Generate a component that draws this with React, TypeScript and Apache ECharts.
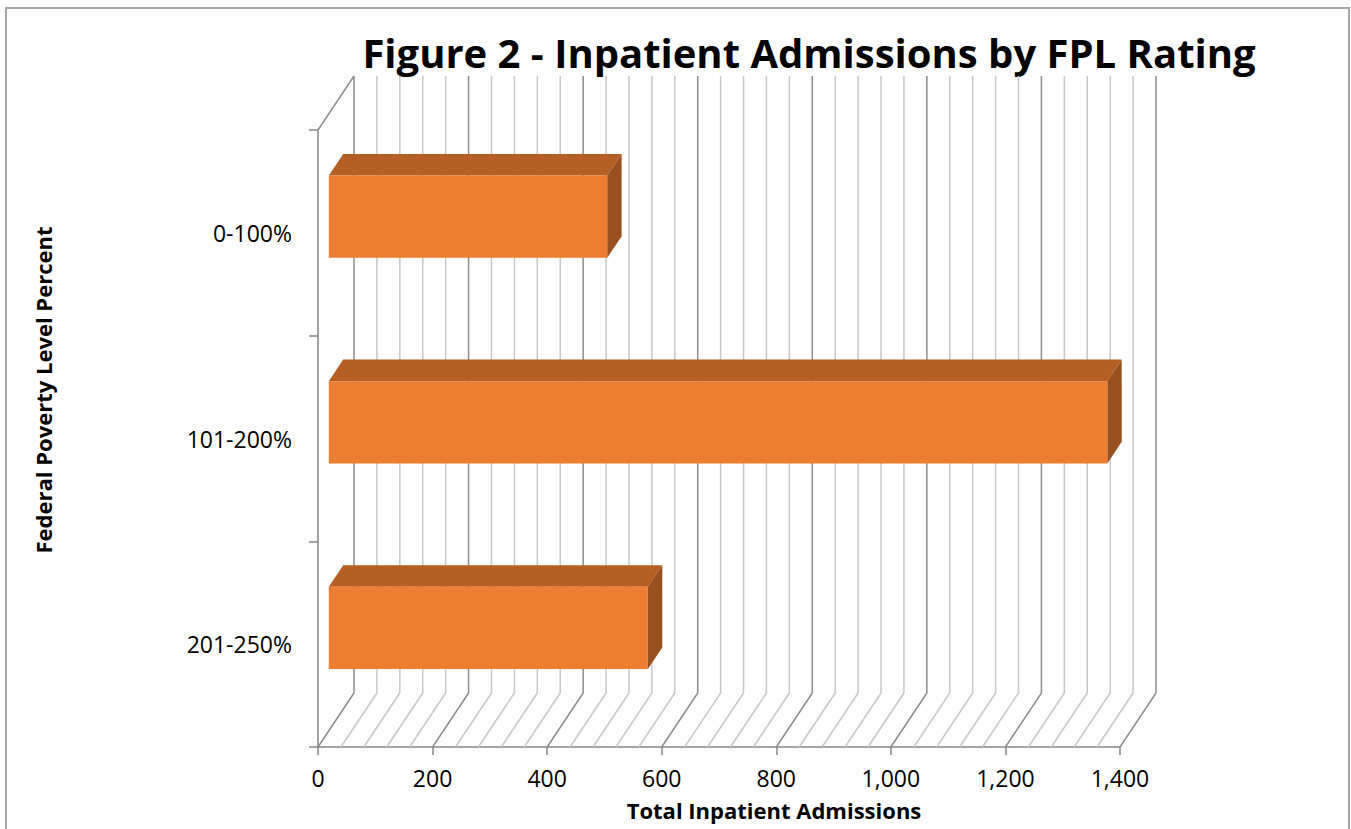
import React, { useEffect, useRef } from "react";
import * as echarts from "echarts";

const titleText = "Figure 2 - Inpatient Admissions by FPL Rating";
const xAxisTitle = "Total Inpatient Admissions";
const yAxisTitle = "Federal Poverty Level Percent";
const categories = ["0-100%", "101-200%", "201-250%"];
const admissions = [486, 1359, 557];
const xTicks = [0, 200, 400, 600, 800, 1000, 1200, 1400];
const gridTicks = [
  0, 40, 80, 120, 160, 200, 240, 280, 320, 360, 400, 440, 480, 520, 560, 600,
  640, 680, 720, 760, 800, 840, 880, 920, 960, 1000, 1040, 1080, 1120, 1160,
  1200, 1240, 1280, 1320, 1360, 1400,
];

const DX = 36;
const DY = 54;
const D0 = 0.3;
const DD = 0.4;
const FONT = "'Open Sans', 'Liberation Sans', sans-serif";

export default function App() {
  const ref = useRef<HTMLDivElement>(null);
  useEffect(() => {
    if (!ref.current) return;
    const chart = echarts.init(ref.current, null, { renderer: "svg" });
    const option: any = {
      animation: false,
      backgroundColor: "#ffffff",
      grid: { left: 318, top: 130, width: 802, height: 617 },
      xAxis: {
        type: "value",
        min: xTicks[0],
        max: xTicks[xTicks.length - 1],
        interval: 200,
        axisLine: { show: true, lineStyle: { color: "#868686", width: 1.5 } },
        axisTick: { show: true, length: 8, lineStyle: { color: "#868686", width: 1.5 } },
        splitLine: { show: false },
        axisLabel: {
          margin: 19,
          fontSize: 23,
          color: "#000",
          fontFamily: FONT,
          formatter: (v: number) => v.toLocaleString("en-US"),
        },
      },
      yAxis: {
        type: "category",
        inverse: true,
        data: categories,
        axisLine: { show: true, lineStyle: { color: "#868686", width: 1.5 } },
        axisTick: { show: true, length: 9, lineStyle: { color: "#868686", width: 1.5 } },
        splitLine: { show: false },
        axisLabel: { margin: 26, fontSize: 23, color: "#000", fontFamily: FONT },
      },
      graphic: [
        {
          type: "rect",
          shape: { x: 6, y: 8, width: 1343, height: 840 },
          style: { fill: "none", stroke: "#a6a6a6", lineWidth: 2 },
          silent: true,
        },
        {
          type: "text",
          x: 809,
          y: 52,
          style: {
            text: titleText,
            fontSize: 40,
            fontWeight: "bold",
            fontFamily: FONT,
            fill: "#000",
            textAlign: "center",
            textVerticalAlign: "middle",
          },
        },
        {
          type: "text",
          x: 774,
          y: 810,
          style: {
            text: xAxisTitle,
            fontSize: 22,
            fontWeight: "bold",
            fontFamily: FONT,
            fill: "#000",
            textAlign: "center",
            textVerticalAlign: "middle",
          },
        },
        {
          type: "text",
          x: 43,
          y: 390,
          rotation: Math.PI / 2,
          style: {
            text: yAxisTitle,
            fontSize: 22,
            fontWeight: "bold",
            fontFamily: FONT,
            fill: "#000",
            textAlign: "center",
            textVerticalAlign: "middle",
          },
        },
      ],
      series: [
        {
          type: "custom",
          z: 1,
          silent: true,
          encode: { x: 0, y: 1 },
          data: gridTicks.map((v) => [v, 0]),
          renderItem: (params: any, api: any) => {
            const v = api.value(0);
            const x = api.coord([v, 0])[0];
            const cs = params.coordSys;
            const top = cs.y;
            const bottom = cs.y + cs.height;
            const major = v % 200 === 0;
            const stroke = major ? "#8c8c8c" : "#c8c8c8";
            const children: any[] = [
              {
                type: "line",
                shape: { x1: x + DX, y1: top - DY, x2: x + DX, y2: bottom - DY },
                style: { stroke, lineWidth: 1.5 },
              },
              {
                type: "line",
                shape: { x1: x + DX, y1: bottom - DY, x2: x, y2: bottom },
                style: { stroke, lineWidth: 1.5 },
              },
            ];
            if (v === 0) {
              children.push({
                type: "line",
                shape: { x1: x, y1: top, x2: x + DX, y2: top - DY },
                style: { stroke: "#8c8c8c", lineWidth: 1.5 },
              });
            }
            return { type: "group", children };
          },
        },
        {
          type: "custom",
          z: 3,
          encode: { x: 0, y: 1 },
          data: admissions.map((v, i) => [v, i]),
          renderItem: (params: any, api: any) => {
            const v = api.value(0);
            const c = api.value(1);
            const p0 = api.coord([0, c]);
            const p1 = api.coord([v, c]);
            const band = api.size([0, 1])[1];
            const h = band * 0.4;
            const fx = DX * D0;
            const fy = DY * D0;
            const tx = DX * DD;
            const ty = DY * DD;
            const x0 = p0[0] + fx;
            const x1 = p1[0] + fx;
            const yc = p0[1] - fy;
            const t = yc - h / 2;
            const b = yc + h / 2;
            return {
              type: "group",
              children: [
                {
                  type: "polygon",
                  shape: { points: [[x0, t], [x1, t], [x1 + tx, t - ty], [x0 + tx, t - ty]] },
                  style: { fill: "#b65f25" },
                },
                {
                  type: "polygon",
                  shape: { points: [[x1, t], [x1 + tx, t - ty], [x1 + tx, b - ty], [x1, b]] },
                  style: { fill: "#97501e" },
                },
                {
                  type: "rect",
                  shape: { x: x0, y: t, width: x1 - x0, height: h },
                  style: { fill: "#ed7d31" },
                },
              ],
            };
          },
        },
      ],
    };
    chart.setOption(option);
    return () => chart.dispose();
  }, []);
  return (
    <div
      ref={ref}
      style={{ position: "fixed", left: 0, top: 0, width: 1351, height: 829 }}
    />
  );
}
